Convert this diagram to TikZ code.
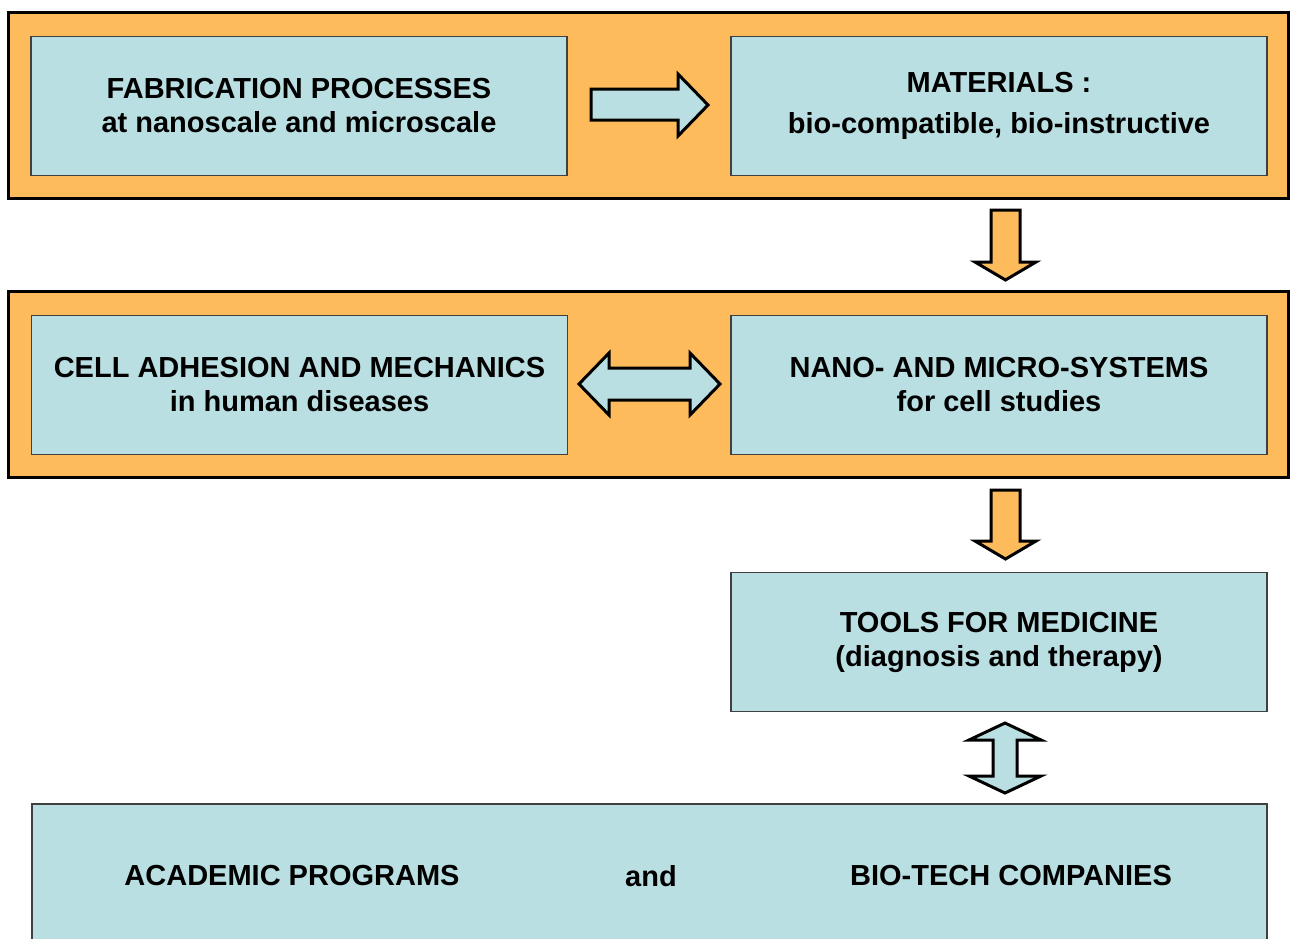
\documentclass[tikz,border=0pt]{standalone}
\usepackage{fontspec}
\setmainfont{Liberation Sans}
\definecolor{orng}{RGB}{254,187,92}
\definecolor{lblue}{RGB}{186,223,226}
\definecolor{edge}{RGB}{64,64,64}
\tikzset{
  frame/.style={draw=black, line width=3pt, fill=orng},
  box/.style={draw=edge, line width=1.5pt, fill=lblue, minimum width=536pt, minimum height=139pt, inner sep=0pt, align=center, font=\fontsize{29}{34}\selectfont\bfseries},
  blue arrow/.style={draw=black, line width=3pt, fill=lblue, line join=miter},
  orange arrow/.style={draw=black, line width=3pt, fill=orng, line join=miter},
  txt/.style={font=\fontsize{29}{34}\selectfont\bfseries, inner sep=0pt}
}
\begin{document}
\begin{tikzpicture}[x=1pt,y=-1pt]
\useasboundingbox (0,0) rectangle (1291,938);
\clip (0,0) rectangle (1291,938);
% frames
\draw[frame] (8,12) rectangle (1288,198);
\draw[frame] (8,291) rectangle (1288,477);
% boxes
\node[box] (fab) at (299,106) {FABRICATION PROCESSES\\at nanoscale and microscale};
\node[box] (mat) at (999,106) {MATERIALS :\\[7pt]bio-compatible, bio-instructive};
\node[box] (cell) at (299.5,385) {CELL ADHESION AND MECHANICS\\in human diseases};
\node[box] (nano) at (999,385) {NANO- AND MICRO-SYSTEMS\\for cell studies};
\node[box] (tools) at (999,642) {TOOLS FOR MEDICINE\\(diagnosis and therapy)};
\draw[draw=edge, line width=1.5pt, fill=lblue] (32,804) rectangle (1267,960);
\node[txt] (acad) at (292,876) {ACADEMIC PROGRAMS};
\node[txt] (and) at (651,876) {and};
\node[txt] (bio) at (1011,876) {BIO-TECH COMPANIES};
% arrows
\draw[blue arrow] (591,89) -- (678,89) -- (678,74) -- (708,105) -- (678,136) -- (678,120) -- (591,120) -- cycle;
\draw[orange arrow] (991,210) -- (1020,210) -- (1020,262) -- (1036,262) -- (1005.5,280) -- (975,262) -- (991,262) -- cycle;
\draw[blue arrow] (579,384) -- (609,353) -- (609,368) -- (690,368) -- (690,353) -- (720,384) -- (690,415) -- (690,400) -- (609,400) -- (609,415) -- cycle;
\draw[orange arrow] (991,490) -- (1020,490) -- (1020,541) -- (1036,541) -- (1005.5,559) -- (975,541) -- (991,541) -- cycle;
\draw[blue arrow] (1005,723) -- (1041,740) -- (1017,740) -- (1017,776) -- (1041,776) -- (1005,793) -- (969,776) -- (993,776) -- (993,740) -- (969,740) -- cycle;
\end{tikzpicture}
\end{document}
